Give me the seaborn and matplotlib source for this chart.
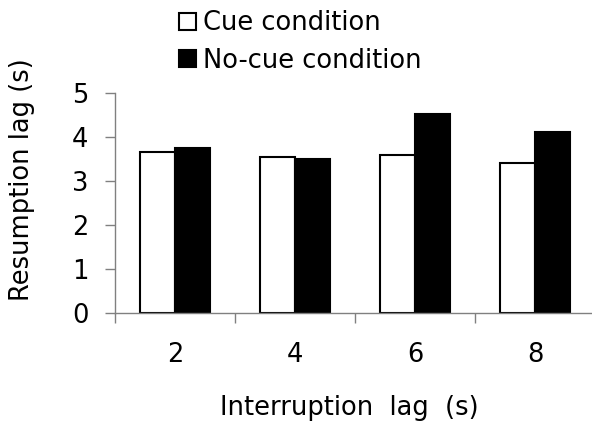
import matplotlib
matplotlib.use("Agg")
import matplotlib.pyplot as plt
import seaborn as sns
import numpy as np
import pandas as pd

# values
lags = ["2", "4", "6", "8"]
cue = [3.66, 3.53, 3.59, 3.40]
no_cue = [3.74, 3.49, 4.52, 4.10]
conditions = ["Cue condition", "No-cue condition"]

df = pd.DataFrame({
    "lag": lags * 2,
    "value": cue + no_cue,
    "condition": [conditions[0]] * len(lags) + [conditions[1]] * len(lags),
})

sns.set_style("white", {"text.color": "black", "axes.labelcolor": "black",
                        "xtick.color": "black", "ytick.color": "black"})
plt.rcParams["font.family"] = ["DejaVu Sans"]
fs = 18.5

fig = plt.figure(figsize=(5.92, 4.25), dpi=100)
ax = fig.add_axes([115 / 592, 112 / 425, 480 / 592, 220.3 / 425])

sns.barplot(data=df, x="lag", y="value", hue="condition", ax=ax,
            palette=["white", "black"], edgecolor="black", linewidth=1.5,
            width=0.58, gap=0, saturation=1)

ax.set_xlim(-0.5, 3.5)
ax.set_ylim(0, 5)
ax.set_yticks(np.arange(0, 6, 1))

# tick marks between categories, labels at the centres
ax.set_xticks(np.arange(-0.5, 3.6, 1), minor=True)
ax.tick_params(axis="x", which="major", length=0, pad=21, labelsize=fs)
ax.tick_params(axis="x", which="minor", length=7, width=1, color="#808080", direction="out")
ax.tick_params(axis="y", length=7, width=1, color="#808080", labelcolor="black",
               direction="out", pad=12, labelsize=fs)
ax.tick_params(bottom=True, left=True, which="both")

for side in ["top", "right"]:
    ax.spines[side].set_visible(False)
for side in ["left", "bottom"]:
    ax.spines[side].set_color("#808080")
    ax.spines[side].set_linewidth(1)

ax.set_xlabel("Interruption  lag  (s)", fontsize=fs)
ax.set_ylabel("Resumption lag (s)", fontsize=fs)
ax.xaxis.set_label_coords((349 - 115) / 480, -0.37)
ax.yaxis.set_label_coords((35 - 115) / 480, (313 - 180) / 220.3)

handles, labels = ax.get_legend_handles_labels()
ax.legend(handles, labels, loc="upper left", bbox_to_anchor=(169 / 592, 1.0),
          bbox_transform=fig.transFigure, frameon=False, fontsize=fs,
          handlelength=0.66, handleheight=0.66, handletextpad=0.27,
          labelspacing=0.45, borderaxespad=0.0)

fig.savefig("out.png", dpi=100)
